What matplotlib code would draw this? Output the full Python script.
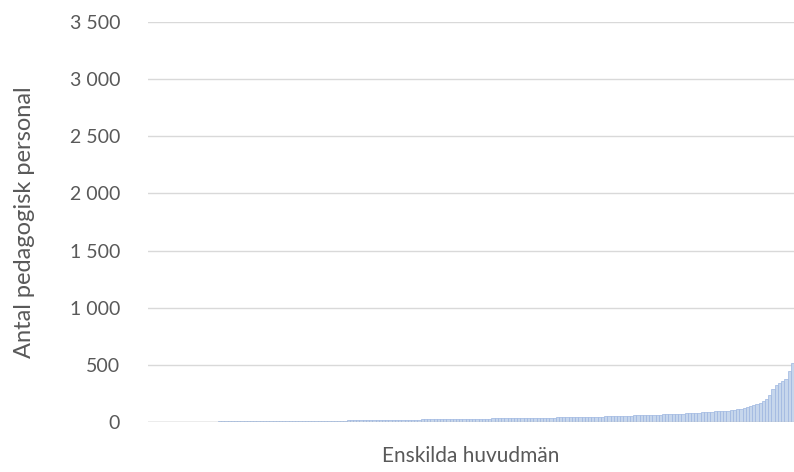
import numpy as np
import matplotlib.pyplot as plt

plt.rcParams['font.family'] = ['Lato', 'DejaVu Sans']

# Antal pedagogisk personal per enskild huvudman (sorterat)
personal = [
    1, 1, 1, 1, 2, 2, 2, 2, 2, 3, 3, 3, 3, 3, 3, 4, 4, 4, 4, 4,
    4, 5, 5, 5, 5, 5, 5, 6, 6, 6, 6, 6, 7, 7, 7, 7, 7, 8, 8, 8,
    8, 8, 9, 9, 9, 9, 10, 10, 10, 10, 11, 11, 11, 11, 12, 12, 12, 12, 13, 13,
    13, 14, 14, 14, 15, 15, 15, 16, 16, 16, 17, 17, 17, 18, 18, 18, 19, 19, 19, 20,
    20, 20, 21, 21, 22, 22, 23, 23, 24, 25,
    25, 25, 26, 26, 26, 27, 27, 27, 28, 28, 28, 29, 29, 30, 30, 30, 31, 31, 32, 32,
    32, 33, 33, 34, 34, 34, 35, 35, 36, 36, 37, 37, 38, 38, 39, 39, 40, 40, 41, 41,
    42, 42, 43, 43, 44, 44, 45, 45, 46, 47,
    48, 49, 50, 50, 51, 52, 53, 54, 55, 56, 57, 58, 59, 60, 61, 62, 63, 64, 65, 66,
    67, 68, 70, 71, 72, 74, 75, 77, 78, 80, 82, 84, 86, 88, 90, 92, 94, 96, 98, 100,
    104, 108, 112, 118, 124, 130, 138, 146, 155, 165, 180, 200, 240, 290, 320, 340,
    360, 380, 450, 520,
]
y_ticks = [0, 500, 1000, 1500, 2000, 2500, 3000, 3500]
y_labels = ['0', '500', '1\u00a0000', '1\u00a0500', '2\u00a0000', '2\u00a0500', '3\u00a0000', '3\u00a0500']

fig = plt.figure(figsize=(7.94, 4.72), dpi=100)
ax = fig.add_axes([148 / 794, 50 / 472, 646 / 794, 400 / 472])

x = np.arange(len(personal))
ax.bar(x, personal, width=1.0, color='#c6d6ec', edgecolor='#9db6e0', linewidth=0.5, zorder=3)

ax.set_ylim(0, 3500)
ax.set_xlim(-1.2, len(personal) - 0.5)
ax.set_yticks(y_ticks)
ax.set_yticklabels(y_labels)
ax.set_xticks([])

ax.grid(axis='y', color='#d9d9d9', linewidth=1, zorder=0)
ax.axhline(0, color='#bfbfbf', linewidth=1, zorder=4)
for s in ax.spines.values():
    s.set_visible(False)
ax.tick_params(axis='y', length=0, pad=20, labelsize=14, labelcolor='#595959')

ax.set_ylabel('Antal pedagogisk personal', fontsize=17, color='#595959', labelpad=25)
ax.set_xlabel('Enskilda huvudmän', fontsize=15, color='#595959', labelpad=17)

fig.savefig('out.png', dpi=100)
